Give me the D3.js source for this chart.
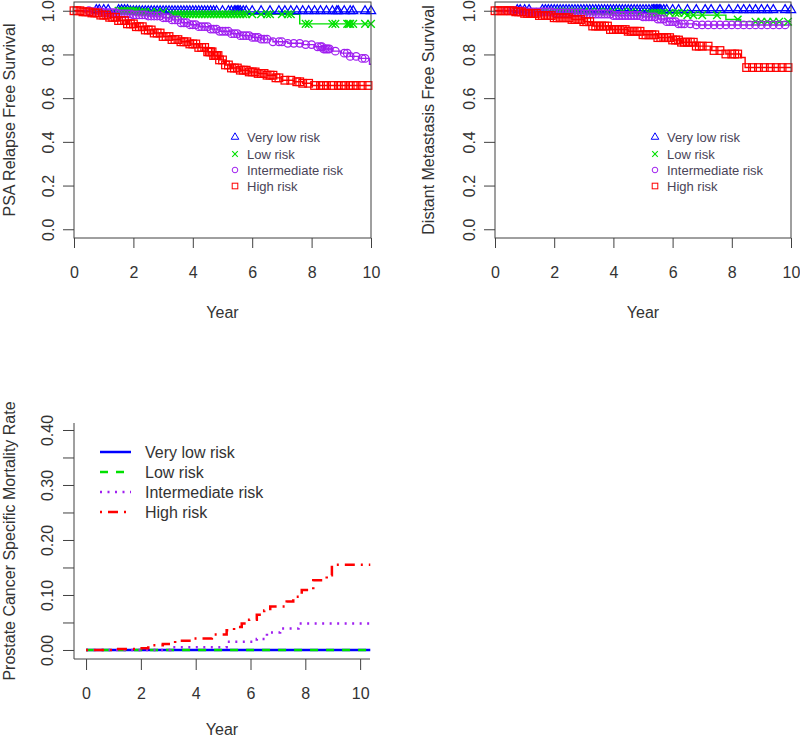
<!DOCTYPE html>
<html><head><meta charset="utf-8">
<script src="https://cdn.jsdelivr.net/npm/d3@7"></script>
<style>body{margin:0;background:#fff}svg{display:block}text{font-family:"Liberation Sans",Arial,sans-serif}</style>
</head><body>
<svg id="c" width="800" height="738"></svg>
<script>
// ---------- data ----------
const riskGroups = ["Very low risk", "Low risk", "Intermediate risk", "High risk"];
const groupColors = ["#0000FF", "#00E000", "#A020F0", "#FF0000"];
const yearTicks = [0, 2, 4, 6, 8, 10];
const survTicks = [0, 0.2, 0.4, 0.6, 0.8, 1.0];
const survTickLabels = ["0.0", "0.2", "0.4", "0.6", "0.8", "1.0"];
const mortTicks = [0, 0.05, 0.10, 0.15, 0.20, 0.25, 0.30, 0.35, 0.40];
const mortTickLabels = ["0.00", "", "0.10", "", "0.20", "", "0.30", "", "0.40"];

// PSA relapse free survival: [time, survival] step points
const psaVeryLow = [[0,1],[1.9,0.995],[10,0.995]];
const psaLow = [[0,1],[2.2,0.994],[3.2,0.984],[7.6,0.94],[10,0.94]];
const psaInter = [[0,1],[0.6,0.997],[1.0,0.991],[1.5,0.986],[2.0,0.981],[2.5,0.976],[3.0,0.968],[3.3,0.958],[3.6,0.945],[3.9,0.936],[4.2,0.927],[4.6,0.916],[4.9,0.906],[5.3,0.895],[5.6,0.886],[6.0,0.878],[6.3,0.870],[6.7,0.858],[7.2,0.851],[7.7,0.845],[8.1,0.835],[8.4,0.825],[8.7,0.815],[9.0,0.806],[9.3,0.791],[9.6,0.782],[9.95,0.755],[10,0.755]];
const psaHigh = [[0,1],[0.3,0.995],[0.6,0.99],[0.9,0.98],[1.2,0.97],[1.5,0.955],[1.8,0.94],[2.1,0.927],[2.4,0.912],[2.7,0.898],[3.0,0.882],[3.3,0.868],[3.6,0.858],[3.9,0.848],[4.2,0.832],[4.5,0.812],[4.7,0.795],[4.9,0.775],[5.1,0.752],[5.3,0.738],[5.6,0.728],[5.9,0.72],[6.2,0.713],[6.5,0.705],[6.8,0.693],[7.0,0.682],[7.4,0.675],[7.7,0.668],[8.0,0.658],[10,0.658]];
// censoring times
const psaVeryLowCens = [0.75,0.85,1.0,1.15,1.5,1.6,1.7,1.8,1.9,2.0,2.1,2.2,2.3,2.4,2.5,2.6,2.7,2.8,2.9,3.0,3.1,3.2,3.3,3.4,3.5,3.6,3.7,3.8,3.9,4.0,4.1,4.2,4.3,4.4,4.5,4.6,4.7,4.8,5.0,5.2,5.3,5.4,5.45,5.5,5.55,5.6,5.7,5.8,6.0,6.3,6.6,6.9,7.1,7.3,7.5,7.7,7.9,8.1,8.3,8.5,8.7,8.85,8.9,9.1,9.3,9.4,9.8,10.0];
const psaLowCens = [1.5,1.6,1.7,1.8,1.9,2.0,2.1,2.2,2.3,2.4,2.6,2.8,3.0,3.3,3.4,3.5,3.6,3.7,3.8,3.9,4.0,4.1,4.2,4.3,4.4,4.5,4.6,4.7,4.8,4.9,5.0,5.1,5.2,5.3,5.4,5.5,5.6,5.7,5.8,6.0,6.3,6.5,6.6,7.0,7.2,7.3,7.8,7.9,8.7,8.8,9.2,9.25,9.3,9.4,9.8,10.0];
const psaInterCens = [0.5,0.7,0.9,1.0,1.1,1.2,1.3,1.4,1.5,1.6,1.7,1.8,1.9,2.0,2.1,2.2,2.3,2.4,2.5,2.6,2.7,2.8,2.9,3.0,3.1,3.2,3.3,3.4,3.5,3.6,3.7,3.8,3.9,4.0,4.1,4.2,4.3,4.4,4.5,4.6,4.7,4.8,4.9,5.0,5.1,5.2,5.3,5.4,5.5,5.6,5.7,5.8,5.9,6.0,6.1,6.2,6.3,6.4,6.5,6.7,6.9,7.0,7.2,7.4,7.6,7.8,8.0,8.2,8.3,8.35,8.4,8.45,8.5,8.55,8.6,8.8,9.1,9.2,9.3,9.5,9.7,9.8];
const psaHighCens = [0.0,0.1,0.2,0.3,0.4,0.5,0.6,0.7,0.8,0.9,1.0,1.1,1.2,1.3,1.4,1.5,1.6,1.7,1.8,1.9,2.0,2.1,2.2,2.3,2.4,2.5,2.6,2.7,2.8,2.9,3.0,3.1,3.2,3.3,3.4,3.5,3.6,3.7,3.8,3.9,4.0,4.1,4.2,4.3,4.4,4.5,4.55,4.6,4.65,4.7,4.75,4.8,4.85,4.9,5.0,5.1,5.2,5.3,5.4,5.5,5.6,5.7,5.8,5.9,6.0,6.1,6.2,6.3,6.4,6.5,6.6,6.7,6.8,6.9,7.1,7.3,7.5,7.6,7.7,7.9,8.1,8.3,8.4,8.5,8.7,8.9,9.0,9.1,9.3,9.4,9.5,9.7,9.9];

// Distant metastasis free survival
const dmVeryLow = [[0,1],[10,1]];
const dmLow = [[0,1],[1.5,0.995],[4.8,0.99],[6.5,0.98],[7.8,0.96],[8.3,0.95],[10,0.95]];
const dmInter = [[0,1],[1.0,0.995],[2.0,0.99],[3.0,0.985],[4.0,0.978],[5.0,0.972],[5.5,0.962],[5.8,0.95],[6.2,0.94],[6.8,0.935],[10,0.935]];
const dmHigh = [[0,1],[0.7,0.995],[1.0,0.988],[1.5,0.978],[2.0,0.968],[2.6,0.96],[3.0,0.95],[3.3,0.93],[3.9,0.914],[4.5,0.906],[5.0,0.89],[5.5,0.877],[6.0,0.866],[6.3,0.856],[6.8,0.838],[7.3,0.818],[7.8,0.802],[8.3,0.786],[8.45,0.74],[10,0.74]];
const dmVeryLowCens = [0.75,0.85,1.0,1.15,1.6,1.7,1.8,1.9,2.0,2.1,2.2,2.3,2.4,2.5,2.6,2.7,2.8,2.9,3.0,3.1,3.2,3.3,3.4,3.5,3.6,3.7,3.8,3.9,4.0,4.1,4.2,4.3,4.4,4.5,4.6,4.7,4.8,4.9,5.0,5.1,5.2,5.3,5.35,5.4,5.45,5.5,5.55,5.6,5.7,5.8,6.0,6.2,6.5,6.8,7.1,7.3,7.6,7.9,8.2,8.4,8.6,8.8,9.0,9.2,9.4,9.8,10.0];
const dmLowCens = [1.5,1.7,1.8,2.0,2.1,2.2,2.4,2.5,2.7,2.8,3.0,3.2,3.5,3.8,4.0,4.3,4.6,4.9,5.2,5.3,5.4,5.5,5.6,5.7,5.9,6.1,6.2,6.4,6.5,6.7,7.0,7.5,8.2,8.8,9.0,9.2,9.4,9.6,9.9];
const dmInterCens = [0.4,0.6,0.7,0.9,1.0,1.1,1.2,1.3,1.4,1.5,1.6,1.7,1.8,1.9,2.0,2.1,2.2,2.3,2.4,2.5,2.6,2.7,2.8,2.9,3.0,3.1,3.2,3.3,3.4,3.5,3.6,3.7,3.8,3.9,4.0,4.1,4.2,4.3,4.4,4.5,4.6,4.7,4.8,4.9,5.0,5.1,5.2,5.3,5.4,5.5,5.6,5.7,5.8,5.9,6.0,6.1,6.2,6.3,6.4,6.6,6.8,7.0,7.2,7.4,7.6,7.8,8.0,8.2,8.4,8.6,8.8,9.0,9.2,9.4,9.6,9.8];
const dmHighCens = [0.0,0.1,0.2,0.3,0.4,0.5,0.6,0.7,0.8,0.9,1.0,1.1,1.2,1.3,1.4,1.5,1.6,1.7,1.8,1.9,2.0,2.1,2.2,2.3,2.4,2.5,2.6,2.7,2.8,2.9,3.0,3.1,3.2,3.3,3.4,3.5,3.6,3.7,3.8,3.9,4.0,4.1,4.2,4.3,4.4,4.5,4.6,4.7,4.8,4.9,5.0,5.1,5.2,5.3,5.4,5.5,5.6,5.7,5.8,5.9,6.0,6.1,6.2,6.3,6.4,6.5,6.6,6.7,6.8,6.9,7.0,7.2,7.4,7.6,7.8,8.0,8.1,8.2,8.5,8.7,8.9,9.1,9.3,9.5,9.7,9.9];

// Prostate cancer specific mortality (cumulative incidence)
const pcsmVeryLow = [[0,0],[10.37,0]];
const pcsmLow = [[0,0],[10.37,0]];
const pcsmInter = [[0,0],[3.07,0.005],[5.13,0.015],[6.23,0.02],[6.6,0.032],[7.08,0.039],[7.75,0.048],[10.37,0.048]];
const pcsmHigh = [[0,0],[1.0,0.002],[1.9,0.003],[2.27,0.0085],[2.8,0.011],[3.25,0.017],[3.86,0.021],[4.59,0.028],[5.13,0.036],[5.4,0.042],[5.68,0.048],[5.95,0.055],[6.23,0.064],[6.5,0.072],[6.72,0.079],[7.32,0.088],[7.56,0.097],[7.87,0.109],[8.29,0.127],[8.78,0.136],[8.97,0.155],[10.37,0.155]];

// ---------- drawing ----------
const svg = d3.select("#c");
const TXT = "#333", AX = "#404040";
const symbols = ["tri", "x", "circ", "sq"];

function stepVal(steps, t){ let v = steps[0][1]; for (const p of steps){ if (p[0] <= t) v = p[1]; } return v; }

function drawSym(g, type, x, y, r, color, sw){
  if (type === "tri") g.append("path").attr("d", `M${x},${y-r*1.1-1}L${x+r},${y+r*0.6-1}L${x-r},${y+r*0.6-1}Z`).attr("fill","none").attr("stroke",color).attr("stroke-width",sw);
  else if (type === "x") g.append("path").attr("d", `M${x-r},${y-r}L${x+r},${y+r}M${x-r},${y+r}L${x+r},${y-r}`).attr("stroke",color).attr("stroke-width",sw*1.1);
  else if (type === "circ") g.append("circle").attr("cx",x).attr("cy",y).attr("r",r).attr("fill","none").attr("stroke",color).attr("stroke-width",sw);
  else g.append("rect").attr("x",x-r).attr("y",y-r).attr("width",2*r).attr("height",2*r).attr("fill","none").attr("stroke",color).attr("stroke-width",sw);
}

function kmPanel(opts){
  const {left, right, top, bottom, title, series, cens, legX, titleX} = opts;
  const x = d3.scaleLinear().domain([0,10]).range([left,right]);
  const y = d3.scaleLinear().domain([-0.04,1.04]).range([bottom,top]);
  const g = svg.append("g");
  const line = d3.line().x(d=>x(d[0])).y(d=>y(d[1])).curve(d3.curveStepAfter);
  series.forEach((s,i)=>{
    g.append("path").attr("d", line(s)).attr("fill","none").attr("stroke",groupColors[i]).attr("stroke-width",1.4);
  });
  series.forEach((s,i)=>{
    cens[i].forEach(t=>{ drawSym(g, symbols[i], x(t), y(stepVal(s,t)), i===0?4.6:3.8, groupColors[i], 1.25); });
  });
  // box
  g.append("rect").attr("x",left).attr("y",top).attr("width",right-left).attr("height",bottom-top).attr("fill","none").attr("stroke",AX).attr("stroke-width",1);
  // axes
  const xa = g.append("g").attr("transform",`translate(0,${bottom})`).call(d3.axisBottom(x).tickValues(yearTicks).tickSize(10).tickFormat(d3.format("d")));
  xa.select(".domain").remove();
  xa.selectAll("line").attr("stroke",AX);
  xa.selectAll("text").attr("fill",TXT).attr("font-size",16).attr("dy",null).attr("y",40);
  const ya = g.append("g").attr("transform",`translate(${left},0)`).call(d3.axisLeft(y).tickValues(survTicks).tickSize(11).tickFormat((d,i)=>survTickLabels[i]));
  ya.select(".domain").remove();
  ya.selectAll("line").attr("stroke",AX);
  ya.selectAll("text").attr("fill",TXT).attr("font-size",16).attr("x",null).attr("dy",null)
    .attr("text-anchor","middle").attr("transform",`translate(${-26},0) rotate(-90)`).attr("y",0).attr("dy","0.35em");
  g.append("text").attr("x",(left+right)/2).attr("y",318).attr("text-anchor","middle").attr("font-size",16).attr("fill",TXT).text("Year");
  g.append("text").attr("transform",`translate(${titleX},${(top+bottom)/2}) rotate(-90)`).attr("text-anchor","middle").attr("dy","0.35em").attr("font-size",16).attr("fill",TXT).text(title);
  // legend
  const rows = [137,154,170,186];
  riskGroups.forEach((name,i)=>{
    drawSym(g, symbols[i], legX, rows[i] + (i===0?1:0), i===0?3.8:2.8, groupColors[i], 1);
    g.append("text").attr("x",legX+12).attr("y",rows[i]).attr("dy","0.35em").attr("font-size",13).attr("fill","#4a4458").text(name);
  });
}

kmPanel({left:74, right:371, top:2, bottom:238, title:"PSA Relapse Free Survival",
  series:[psaVeryLow, psaLow, psaInter, psaHigh], cens:[psaVeryLowCens, psaLowCens, psaInterCens, psaHighCens], legX:235, titleX:9});
kmPanel({left:495, right:791, top:2, bottom:238, title:"Distant Metastasis Free Survival",
  series:[dmVeryLow, dmLow, dmInter, dmHigh], cens:[dmVeryLowCens, dmLowCens, dmInterCens, dmHighCens], legX:655, titleX:428});

// bottom panel
(function(){
  const left=74, right=370, top=423, bottom=659;
  const x = d3.scaleLinear().domain([-0.44,10.36]).range([left,right]);
  const y = d3.scaleLinear().domain([-0.0164,0.4127]).range([bottom,top]);
  const g = svg.append("g");
  const line = d3.line().x(d=>x(d[0])).y(d=>y(d[1])).curve(d3.curveStepAfter);
  const dashes = [null, "8,8", "2,5.5", "2,6,10,6"];
  [pcsmVeryLow, pcsmLow, pcsmInter, pcsmHigh].forEach((s,i)=>{
    g.append("path").attr("d", line(s)).attr("fill","none").attr("stroke",groupColors[i]).attr("stroke-width",2.5)
      .attr("stroke-dasharray",dashes[i]);
  });
  g.append("path").attr("d",`M${left},${top}V${bottom}H${right}`).attr("fill","none").attr("stroke",AX).attr("stroke-width",1);
  const xa = g.append("g").attr("transform",`translate(0,${bottom})`).call(d3.axisBottom(x).tickValues(yearTicks).tickSize(11).tickFormat(d3.format("d")));
  xa.select(".domain").remove();
  xa.selectAll("line").attr("stroke",AX);
  xa.selectAll("text").attr("fill",TXT).attr("font-size",16).attr("dy",null).attr("y",40);
  const ya = g.append("g").attr("transform",`translate(${left},0)`).call(d3.axisLeft(y).tickValues(mortTicks).tickSize(11).tickFormat((d,i)=>mortTickLabels[i]));
  ya.select(".domain").remove();
  ya.selectAll("line").attr("stroke",AX);
  ya.selectAll("text").attr("fill",TXT).attr("font-size",16).attr("x",null).attr("dy",null)
    .attr("text-anchor","middle").attr("transform",`translate(${-27},0) rotate(-90)`).attr("y",0).attr("dy","0.35em");
  g.append("text").attr("x",(left+right)/2).attr("y",735).attr("text-anchor","middle").attr("font-size",16).attr("fill",TXT).text("Year");
  g.append("text").attr("transform",`translate(9,${(top+bottom)/2}) rotate(-90)`).attr("text-anchor","middle").attr("dy","0.35em").attr("font-size",16).attr("fill",TXT).text("Prostate Cancer Specific Mortality Rate");
  const rows = [452,472,492,512];
  riskGroups.forEach((name,i)=>{
    g.append("line").attr("x1",100).attr("x2",131).attr("y1",rows[i]).attr("y2",rows[i]).attr("stroke",groupColors[i]).attr("stroke-width",2.5).attr("stroke-dasharray",dashes[i]);
    g.append("text").attr("x",145).attr("y",rows[i]).attr("dy","0.35em").attr("font-size",16).attr("fill",TXT).text(name);
  });
})();
</script>
</body></html>
